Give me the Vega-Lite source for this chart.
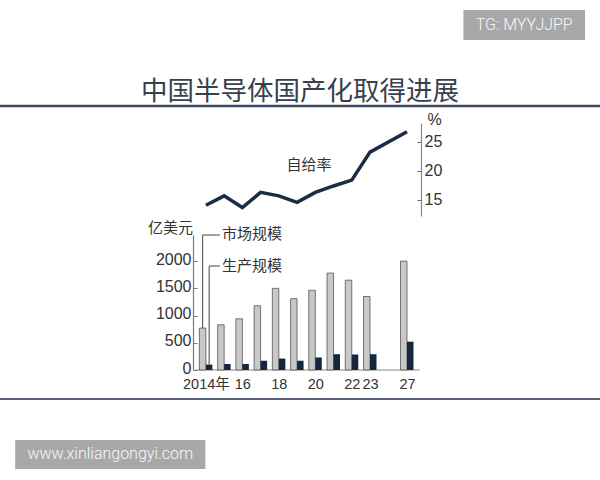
{
  "$schema": "https://vega.github.io/schema/vega-lite/v6.json",
  "width": 600,
  "height": 480,
  "autosize": "none",
  "padding": 0,
  "background": "white",
  "config": {"view": {"stroke": null}},
  "title": {
    "text": "中国半导体国产化取得进展",
    "font": "Noto Sans CJK SC",
    "fontSize": 26.5,
    "fontWeight": "normal",
    "color": "#3a3f4c",
    "anchor": "middle",
    "frame": "group",
    "offset": -105
  },
  "data": {
    "values": [
      {"year": 2014, "market": 770, "production": 100, "rate": 14.1},
      {"year": 2015, "market": 830, "production": 110, "rate": 15.7},
      {"year": 2016, "market": 940, "production": 110, "rate": 13.7},
      {"year": 2017, "market": 1180, "production": 170, "rate": 16.3},
      {"year": 2018, "market": 1500, "production": 210, "rate": 15.7},
      {"year": 2019, "market": 1310, "production": 170, "rate": 14.6},
      {"year": 2020, "market": 1465, "production": 230, "rate": 16.3},
      {"year": 2021, "market": 1780, "production": 290, "rate": 17.4},
      {"year": 2022, "market": 1650, "production": 285, "rate": 18.4},
      {"year": 2023, "market": 1350, "production": 290, "rate": 23.2},
      {"year": 2027, "market": 2000, "production": 520, "rate": 26.7}
    ]
  },
  "layer": [
    {
      "layer": [
        {
          "data": {"values": [{}]},
          "mark": {"type": "rule", "color": "#3d4866", "strokeWidth": 2.5},
          "encoding": {"y": {"datum": 4850}}
        },
        {
          "data": {"values": [{}]},
          "mark": {"type": "rule", "color": "#56607a", "strokeWidth": 2},
          "encoding": {"y": {"datum": -533}}
        },
        {
          "data": {"values": [{}]},
          "mark": {"type": "rule", "color": "#888888", "strokeWidth": 1.2},
          "encoding": {"x": {"datum": 2013.43}, "x2": {"datum": 2027.7}, "y": {"datum": 0}}
        },
        {
          "mark": {"type": "bar", "orient": "vertical", "width": 6.5, "xOffset": -3.25, "fill": "#c8c8c8", "stroke": "#555555", "strokeWidth": 0.8},
          "encoding": {
            "x": {
              "field": "year",
              "type": "quantitative",
              "scale": {"domain": [2003, 2023, 2027, 2037.43], "range": [0, 370, 407, 600], "zero": false, "nice": false},
              "axis": {
                "orient": "bottom",
                "offset": -109,
                "title": null,
                "values": [2014, 2016, 2018, 2020, 2022, 2023, 2027],
                "labelExpr": "datum.value == 2014 ? '2014年' : substring(toString(datum.value), 2, 4)",
                "domain": false,
                "ticks": false,
                "grid": false,
                "labelPadding": 6,
                "labelFont": "Liberation Sans, Noto Sans CJK SC",
                "labelFontSize": 14.5,
                "labelColor": "#333333",
                "labelFlush": false,
                "labelOverlap": false
              }
            },
            "y": {
              "field": "market",
              "type": "quantitative",
              "scale": {"domain": [0, 2480], "range": [370, 235], "zero": true, "nice": false},
              "axis": {
                "orient": "left",
                "offset": -193,
                "values": [0, 500, 1000, 1500, 2000],
                "format": "d",
                "grid": false,
                "domainColor": "#777777",
                "domainWidth": 1.2,
                "tickColor": "#777777",
                "tickSize": -4,
                "labelPadding": 6,
                "labelOffset": -2,
                "labelFont": "Liberation Sans",
                "labelFontSize": 16,
                "labelColor": "#333333",
                "title": "亿美元",
                "titleFont": "Noto Sans CJK SC",
                "titleFontSize": 15,
                "titleFontWeight": "normal",
                "titleColor": "#333333",
                "titleAngle": 0,
                "titleAlign": "center",
                "titleBaseline": "middle",
                "titleX": -23,
                "titleY": 227
              }
            }
          }
        },
        {
          "mark": {"type": "bar", "orient": "vertical", "width": 6.5, "xOffset": 3.25, "fill": "#15273d"},
          "encoding": {
            "x": {"field": "year", "type": "quantitative"},
            "y": {"field": "production", "type": "quantitative"}
          }
        },
        {
          "transform": [{"filter": "datum.year == 2014"}],
          "mark": {"type": "rule", "color": "#444444", "strokeWidth": 1, "xOffset": -3.25},
          "encoding": {
            "x": {"field": "year", "type": "quantitative"},
            "y": {"field": "market", "type": "quantitative"},
            "y2": {"datum": 2480}
          }
        },
        {
          "transform": [{"filter": "datum.year == 2014"}],
          "mark": {"type": "rule", "color": "#444444", "strokeWidth": 1, "xOffset": 3.25},
          "encoding": {
            "x": {"field": "year", "type": "quantitative"},
            "y": {"field": "production", "type": "quantitative"},
            "y2": {"datum": 1910}
          }
        },
        {
          "data": {"values": [{}]},
          "mark": {"type": "rule", "color": "#444444", "strokeWidth": 1},
          "encoding": {"x": {"datum": 2013.824}, "x2": {"datum": 2014.77}, "y": {"datum": 2480}}
        },
        {
          "data": {"values": [{}]},
          "mark": {"type": "rule", "color": "#444444", "strokeWidth": 1},
          "encoding": {"x": {"datum": 2014.176}, "x2": {"datum": 2014.77}, "y": {"datum": 1910}}
        },
        {
          "data": {"values": [{}]},
          "mark": {"type": "text", "text": "市场规模", "align": "left", "baseline": "middle", "font": "Noto Sans CJK SC", "fontWeight": "normal", "fontSize": 15, "fill": "#333333"},
          "encoding": {"x": {"datum": 2014.89}, "y": {"datum": 2500}}
        },
        {
          "data": {"values": [{}]},
          "mark": {"type": "text", "text": "生产规模", "align": "left", "baseline": "middle", "font": "Noto Sans CJK SC", "fontWeight": "normal", "fontSize": 15, "fill": "#333333"},
          "encoding": {"x": {"datum": 2014.89}, "y": {"datum": 1910}}
        },
        {
          "data": {"values": [{}]},
          "mark": {"type": "rect", "fill": "#a8a8a8"},
          "encoding": {"x": {"datum": 2030.135}, "x2": {"datum": 2036.89}, "y": {"datum": 6613}, "y2": {"datum": 6062}}
        },
        {
          "data": {"values": [{}]},
          "mark": {"type": "text", "text": "TG: MYYJJPP", "align": "center", "baseline": "middle", "font": "Roboto", "fontWeight": 300, "fontSize": 16, "fill": "#f8f8f8"},
          "encoding": {"x": {"datum": 2033.51}, "y": {"datum": 6338}}
        },
        {
          "data": {"values": [{}]},
          "mark": {"type": "rect", "fill": "#a8a8a8"},
          "encoding": {"x": {"datum": 2003.54}, "x2": {"datum": 2013.97}, "y": {"datum": -1286}, "y2": {"datum": -1819}}
        },
        {
          "data": {"values": [{}]},
          "mark": {"type": "text", "text": "www.xinliangongyi.com", "align": "center", "baseline": "middle", "font": "Roboto", "fontWeight": 300, "fontSize": 16, "fill": "#f8f8f8"},
          "encoding": {"x": {"datum": 2008.76}, "y": {"datum": -1552}}
        }
      ]
    },
    {
      "layer": [
        {
          "mark": {"type": "line", "color": "#1b2d44", "strokeWidth": 3.5, "strokeJoin": "miter"},
          "encoding": {
            "x": {"field": "year", "type": "quantitative"},
            "y": {
              "field": "rate",
              "type": "quantitative",
              "scale": {"domain": [12.25, 28.2], "range": [216, 123], "zero": false, "nice": false},
              "axis": {
                "orient": "right",
                "offset": -179,
                "values": [15, 20, 25],
                "grid": false,
                "domainColor": "#888888",
                "domainWidth": 1.2,
                "tickColor": "#666666",
                "tickSize": -4,
                "labelPadding": 7,
                "labelFont": "Liberation Sans",
                "labelFontSize": 16,
                "labelColor": "#333333",
                "title": "%",
                "titleFont": "Liberation Sans",
                "titleFontSize": 16,
                "titleFontWeight": "normal",
                "titleColor": "#333333",
                "titleAngle": 0,
                "titleAlign": "center",
                "titleBaseline": "middle",
                "titleX": 13,
                "titleY": 119
              }
            }
          }
        },
        {
          "data": {"values": [{}]},
          "mark": {"type": "text", "text": "自给率", "align": "center", "baseline": "middle", "font": "Noto Sans CJK SC", "fontWeight": "normal", "fontSize": 15, "fill": "#333333"},
          "encoding": {"x": {"datum": 2019.65}, "y": {"datum": 21.0}}
        }
      ]
    }
  ],
  "resolve": {"scale": {"y": "independent"}, "axis": {"y": "independent"}}
}
